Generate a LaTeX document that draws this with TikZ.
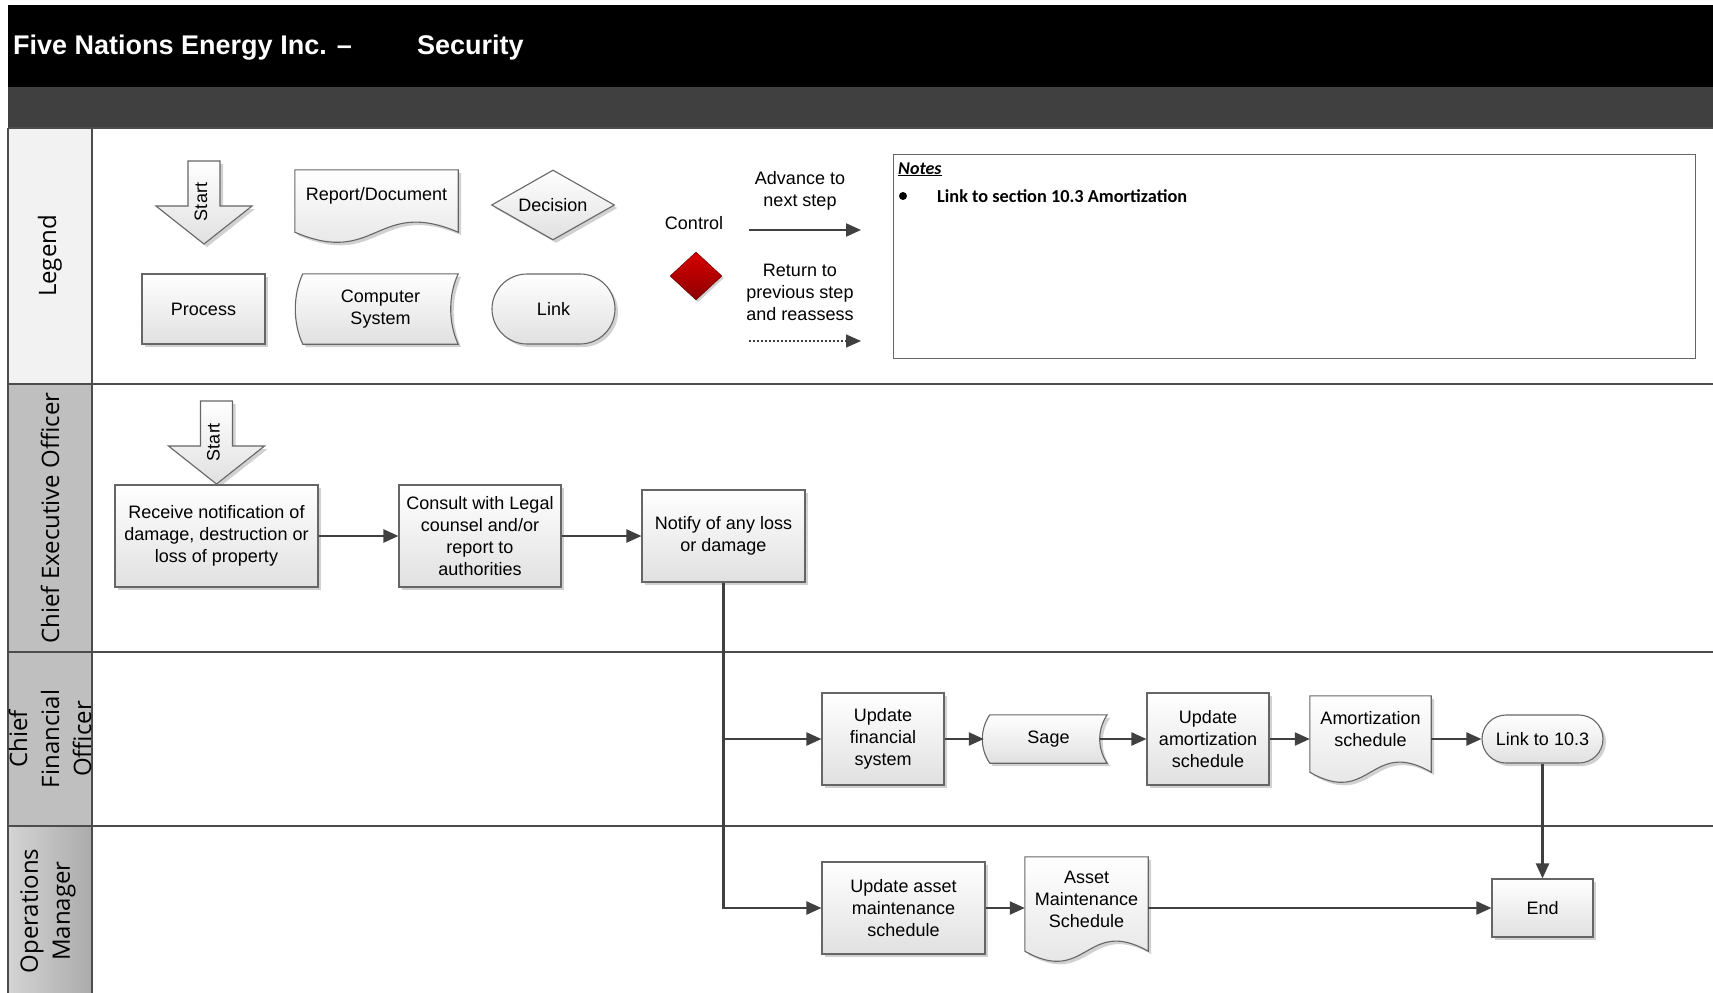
\documentclass[tikz,border=0pt]{standalone}
\usepackage{fontspec}
\setmainfont{Liberation Sans}
\newfontfamily\lanefont{Open Sans}
\newfontfamily\notefont{Carlito}
\usetikzlibrary{arrows.meta,shapes.geometric,shadows,calc,backgrounds}

\tikzset{
  lane/.style={draw=black!70, line width=2pt},
  lanelabel/.style={rotate=90, align=center, inner sep=0pt, font=\lanefont\fontsize{24}{32}\selectfont},
  boxfill/.style={draw=black!60, line width=1.1pt, top color=white, bottom color=black!12,
    drop shadow={opacity=1, fill=black!18, shadow xshift=3pt, shadow yshift=-3pt}},
  process/.style={boxfill, rectangle, align=center, inner sep=2pt},
  docbox/.style={align=center, inner sep=0pt},
  linkbox/.style={process, rounded corners=#1},
  flow/.style={draw=black!75, line width=2.2pt, -{Triangle[length=15pt,width=13pt]}},
}

% document outline, wavy bottom under node #1
\newcommand\docshape[1]{%
  \begin{pgfonlayer}{background}
    \path[boxfill] (#1.north west) -- (#1.north east) -- ([yshift=-10pt]#1.south east)
      .. controls ([yshift=25pt]#1.south) and ([yshift=-45pt]#1.south) .. ([yshift=-10pt]#1.south west) -- cycle;
  \end{pgfonlayer}}
% stored data outline around node #1
\newcommand\storeshape[1]{%
  \begin{pgfonlayer}{background}
    \path[boxfill] (#1.north west) -- (#1.north east)
      .. controls ($(#1.north east)!0.3!(#1.south east)+(-10,0)$) and ($(#1.north east)!0.7!(#1.south east)+(-10,0)$) .. (#1.south east)
      -- (#1.south west)
      .. controls ($(#1.south west)!0.3!(#1.north west)+(-10,0)$) and ($(#1.south west)!0.7!(#1.north west)+(-10,0)$) .. (#1.north west) -- cycle;
  \end{pgfonlayer}}
% start arrow, tip at #2
\newcommand\startarrow[2]{%
  \coordinate (#1) at (#2);
  \path[boxfill] (#1) -- +(-48,-38) -- +(-16,-38) -- +(-16,-83) -- +(16,-83) -- +(16,-38) -- +(48,-38) -- cycle;
  \node[rotate=90] (#1txt) at ($(#1)+(-3,-42)$) {Start};}

\begin{document}
\begin{tikzpicture}[x=1pt,y=-1pt,font=\fontsize{18}{22}\selectfont]
\useasboundingbox (0,0) rectangle (1713,993);

% title bar
\fill[black] (8,5) rectangle (1713,87);
\fill[black!75] (8,87) rectangle (1713,128);
\node[anchor=base west,inner sep=0pt,text=white,font=\bfseries\fontsize{27}{30}\selectfont] (company) at (13,54) {Five Nations Energy Inc. –};
\node[anchor=base west,inner sep=0pt,text=white,font=\bfseries\fontsize{27}{30}\selectfont] (dept) at (417,54) {Security};

% lanes
\fill[black!5] (8,128) rectangle (92,384);
\fill[black!25] (8,384) rectangle (92,826);
\shade[left color=black!17,right color=black!33] (8,826) rectangle (92,993);
\foreach \y in {128,384,652,826} \draw[lane] (8,\y) -- (1713,\y);
\foreach \x in {8,92} \draw[lane] (\x,128) -- (\x,993);

\node[lanelabel] (legendlbl) at (50,256) {Legend};
\node[lanelabel] (ceolbl) at (50,518) {Chief Executive Officer};
\node[lanelabel] (cfolbl) at (50,739) {Chief\\Financial\\Officer};
\node[lanelabel] (opslbl) at (48,911) {Operations\\Manager};

% legend
\startarrow{legstart}{204,244}
\node[docbox, minimum width=163pt, minimum height=52pt] (legdoc) at (376.5,196) {Report/Document};
\docshape{legdoc}
\node[boxfill, diamond, aspect=1.76, inner sep=0pt, minimum width=123pt, minimum height=70pt] (legdecision) at (553,205) {Decision};
\node[process, minimum width=123pt, minimum height=70pt] (legprocess) at (203.5,309) {Process};
\node[docbox, minimum width=155pt, minimum height=70pt] (legsystem) at (380.5,309) {Computer\\System};
\storeshape{legsystem}
\node[linkbox=35pt, minimum width=123pt, minimum height=70pt] (leglink) at (553.5,309) {Link};

\node (ctrltxt) at (694,223) {Control};
\node[diamond, draw=red!35!black, top color=red!85!black, bottom color=red!55!black, inner sep=0pt, minimum width=52pt, minimum height=48pt,
  drop shadow={opacity=1, fill=black!18, shadow xshift=2pt, shadow yshift=-2pt}] (ctrl) at (696,276) {};
\node[align=center] (advtxt) at (800,191) {Advance to\\next step};
\node[align=center] (rettxt) at (800,292) {Return to\\previous step\\and reassess};
\coordinate (adv0) at (749,230);
\coordinate (adv1) at (861,230);
\coordinate (ret0) at (749,341);
\coordinate (ret1) at (861,341);
\draw[flow] (adv0) -- (adv1);
\draw[flow, line width=1.4pt, dash pattern=on 2pt off 2pt] (ret0) -- (ret1);

% notes
\node[draw=black!60, line width=1pt, inner sep=0pt, minimum width=802pt, minimum height=204pt] (notes) at (1294,256) {};
\node[anchor=base west, inner sep=0pt, font=\notefont\bfseries\itshape\fontsize{18}{20}\selectfont] (notehead) at (898,174) {\underline{Notes}};
\node[circle, fill=black, inner sep=0pt, minimum size=8pt] (bullet) at (903,196) {};
\node[anchor=base west, inner sep=0pt, font=\notefont\bfseries\fontsize{18.3}{20}\selectfont] (noteitem) at (937,202) {Link to section 10.3 Amortization};

% Chief Executive Officer
\startarrow{start}{216.5,484}
\node[process, minimum width=203pt, minimum height=102pt] (receive) at (216.5,536) {Receive notification of\\damage, destruction or\\loss of property};
\node[process, minimum width=162pt, minimum height=102pt] (consult) at (480,536) {Consult with Legal\\counsel and/or\\report to\\authorities};
\node[process, minimum width=163pt, minimum height=92pt] (notify) at (723.5,536) {Notify of any loss\\or damage};

% Chief Financial Officer
\node[process, minimum width=122pt, minimum height=92pt] (updfin) at (883,739) {Update\\financial\\system};
\node[docbox, minimum width=117pt, minimum height=48pt] (sage) at (1048.5,739) {Sage};
\storeshape{sage}
\node[process, minimum width=122pt, minimum height=92pt] (updamort) at (1208,739) {Update\\amortization\\schedule};
\node[docbox, minimum width=121pt, minimum height=66pt] (amortdoc) at (1370.5,729) {Amortization\\schedule};
\docshape{amortdoc}
\node[linkbox=24pt, minimum width=121pt, minimum height=48pt] (link103) at (1542.5,739) {Link to 10.3};

% Operations Manager
\node[process, minimum width=163pt, minimum height=92pt] (updasset) at (903.5,908) {Update asset\\maintenance\\schedule};
\node[docbox, minimum width=123pt, minimum height=84pt] (assetdoc) at (1086.5,899) {Asset\\Maintenance\\Schedule};
\docshape{assetdoc}
\node[process, minimum width=101pt, minimum height=58pt] (finish) at (1542.5,908) {End};

% flow
\draw[flow] (receive) -- (consult);
\draw[flow] (consult) -- (notify);
\draw[flow] (notify.south) |- (updfin);
\draw[flow] (notify.south) |- (updasset);
\draw[flow] (updfin) -- ([xshift=-6pt]sage.west);
\draw[flow] ([xshift=-7pt]sage.east) -- (updamort);
\draw[flow] (updamort) -- (updamort -| amortdoc.west);
\draw[flow] (amortdoc.east |- link103) -- (link103);
\draw[flow] (link103) -- (finish);
\draw[flow] (updasset) -- (updasset -| assetdoc.west);
\draw[flow] (assetdoc.east |- finish) -- (finish);

\end{tikzpicture}
\end{document}
